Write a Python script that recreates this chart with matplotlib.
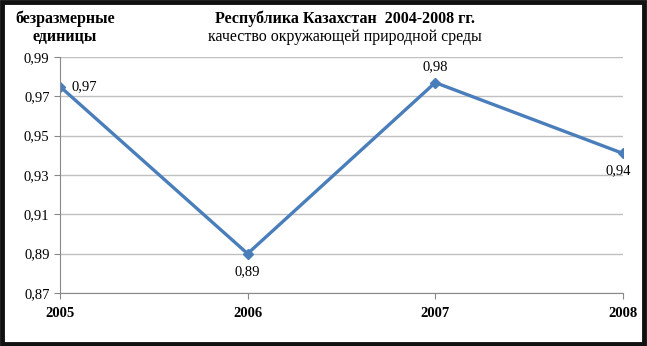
import matplotlib.pyplot as plt
from matplotlib.patches import Rectangle

plt.rcParams['font.family'] = ['Liberation Serif', 'DejaVu Serif']

years = [2005, 2006, 2007, 2008]
values = [0.975, 0.890, 0.977, 0.941]
labels = ["0,97", "0,89", "0,98", "0,94"]
yticks = [0.87, 0.89, 0.91, 0.93, 0.95, 0.97, 0.99]

fig = plt.figure(figsize=(6.47, 3.46), dpi=100)
ax = fig.add_axes([0.0927, 0.1532, 0.870, 0.682])

ax.plot(years, values, color="#4a7ebb", linewidth=2.4, marker="D", markersize=5)

# data labels
offsets = [(8, 0, "left", "center"), (0, -8, "center", "top"),
           (0, 7, "center", "bottom"), (-3, -8, "center", "top")]
for x, y, lab, (dx, dy, ha, va) in zip(years, values, labels, offsets):
    ax.annotate(lab, (x, y), xytext=(dx, dy), textcoords="offset points",
                ha=ha, va=va, fontsize=10.5)

ax.set_xlim(2005, 2008)
ax.set_ylim(0.87, 0.99)
ax.set_xticks(years)
ax.set_xticklabels([str(y) for y in years], fontweight="bold", fontsize=10.5)
ax.set_yticks(yticks)
ax.set_yticklabels([f"{v:.2f}".replace(".", ",") for v in yticks], fontsize=10.5)
ax.grid(axis="y", color="#c0c0c0", linewidth=1)
ax.set_axisbelow(True)
for s in ["top", "right"]:
    ax.spines[s].set_visible(False)
ax.spines["left"].set_color("#888888")
ax.spines["bottom"].set_color("#888888")
ax.tick_params(axis="both", colors="#888888", length=4, labelcolor="black")
ax.tick_params(axis="x", pad=6)

fig.text(0.533, 0.945, "Республика Казахстан  2004-2008 гг.", ha="center", va="center",
         fontsize=11.5, fontweight="bold")
fig.text(0.533, 0.893, "качество окружающей природной среды", ha="center", va="center",
         fontsize=11.5)
fig.text(0.10, 0.945, "безразмерные", ha="center", va="center", fontsize=11.5, fontweight="bold")
fig.text(0.10, 0.893, "единицы", ha="center", va="center", fontsize=11.5, fontweight="bold")

fig.patches.append(Rectangle((0.003, 0.005), 0.993, 0.99, transform=fig.transFigure,
                             fill=False, edgecolor="#111111", linewidth=3.5))

fig.savefig("out.png", dpi=100)
